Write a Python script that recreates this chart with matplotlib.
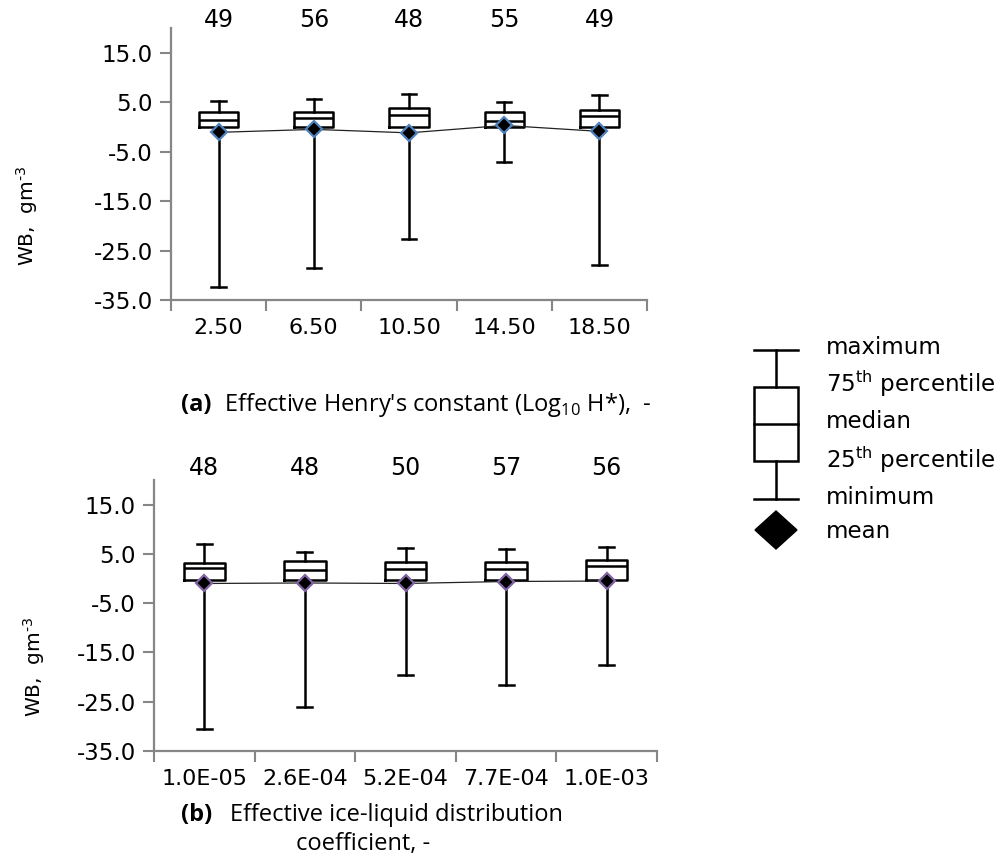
import matplotlib
matplotlib.use("Agg")
from matplotlib import pyplot as plt
from matplotlib.lines import Line2D
from matplotlib.patches import Rectangle, Polygon
import numpy as np

# panel (a): effective Henry's constant
a_labels = ["2.50", "6.50", "10.50", "14.50", "18.50"]
a_counts = [49, 56, 48, 55, 49]
a_max = [5.3, 5.7, 6.6, 5.1, 6.4]
a_q3 = [3.1, 3.1, 3.9, 3.1, 3.5]
a_med = [1.4, 1.8, 2.5, 1.25, 2.2]
a_q1 = [-0.1, -0.1, -0.1, -0.1, -0.1]
a_min = [-32.4, -28.6, -22.7, -7.0, -28.0]
a_mean = [-1.1, -0.5, -1.2, 0.3, -0.9]

# panel (b): effective ice-liquid distribution coefficient
b_labels = ["1.0E-05", "2.6E-04", "5.2E-04", "7.7E-04", "1.0E-03"]
b_counts = [48, 48, 50, 57, 56]
b_max = [7.0, 5.3, 6.1, 6.0, 6.35]
b_q3 = [3.2, 3.6, 3.3, 3.3, 3.7]
b_med = [2.1, 1.8, 2.0, 1.9, 2.5]
b_q1 = [-0.2, -0.2, -0.2, -0.2, -0.2]
b_min = [-30.6, -26.0, -19.6, -21.7, -17.6]
b_mean = [-1.0, -0.9, -1.0, -0.6, -0.5]

yticks = [-35.0, -25.0, -15.0, -5.0, 5.0, 15.0]

W, H = 1002, 860
fig = plt.figure(figsize=(W / 100, H / 100), dpi=100)

def box_panel(rect, labels, counts, vmax, q3, med, q1, vmin, mean, edge, num_off):
    l, t, r, b = rect
    ax = fig.add_axes([l / W, 1 - b / H, (r - l) / W, (b - t) / H])
    n = len(labels)
    pos = np.arange(1, n + 1)
    stats = []
    for i in range(n):
        stats.append(dict(med=med[i], q1=q1[i], q3=q3[i], whislo=vmin[i], whishi=vmax[i], fliers=[]))
    lw = 1.8
    ax.bxp(stats, positions=pos, widths=0.41, capwidths=0.15, showfliers=False,
           boxprops=dict(color="black", linewidth=lw),
           medianprops=dict(color="black", linewidth=lw),
           whiskerprops=dict(color="black", linewidth=lw),
           capprops=dict(color="black", linewidth=lw), zorder=2)
    ax.plot(pos, mean, color="#222222", linewidth=0.9, marker="D", markersize=8,
            markerfacecolor="black", markeredgecolor=edge, markeredgewidth=1.6, zorder=4)
    ax.set_xlim(0.5, n + 0.5)
    ax.set_ylim(-35, 20)
    ax.set_yticks(yticks)
    ax.set_yticklabels(["%.1f" % v for v in yticks], fontsize=16.5)
    ax.set_xticks(pos)
    ax.set_xticklabels(labels, fontsize=16)
    ax.set_xticks(np.arange(0.5, n + 1), minor=True)
    ax.tick_params(axis="x", which="major", length=0, pad=13)
    ax.tick_params(axis="x", which="minor", length=8, width=1.5, color="#868686", direction="out")
    ax.tick_params(axis="y", length=8, width=1.5, color="#868686", direction="out", pad=5)
    for s in ["top", "right"]:
        ax.spines[s].set_visible(False)
    for s in ["left", "bottom"]:
        ax.spines[s].set_color("#868686")
        ax.spines[s].set_linewidth(1.6)
    for i in range(n):
        ax.annotate(str(counts[i]), xy=(pos[i], 1.0), xycoords=("data", "axes fraction"),
                    xytext=(0, num_off), textcoords="offset pixels",
                    ha="center", va="center", fontsize=17)
    return ax

ax1 = box_panel((171, 28, 647, 300), a_labels, a_counts, a_max, a_q3, a_med, a_q1, a_min, a_mean,
                "#4F81BD", 8)
ax2 = box_panel((154, 480, 657, 751), b_labels, b_counts, b_max, b_q3, b_med, b_q1, b_min, b_mean,
                "#8064A2", 12)

# overlay axes in pixel units for labels and the key
ov = fig.add_axes([0, 0, 1, 1], zorder=-1)
ov.set_xlim(0, W)
ov.set_ylim(H, 0)
ov.axis("off")

ylab = "WB,  gm$^{\\text{-3}}$"
ov.text(27, 216, ylab, rotation=90, ha="center", va="center", fontsize=14.5)
ov.text(34, 667, ylab, rotation=90, ha="center", va="center", fontsize=14.5)

cap = "Open Sans"
cs = 17
ov.text(181, 405, "(a)", fontfamily=cap, fontweight="bold", fontsize=cs, ha="left", va="center")
ov.text(224, 405, "Effective Henry's constant (Log$_{\\mathregular{10}}$ H*),  -", fontfamily=cap,
        fontsize=cs, ha="left", va="center")
ov.text(181, 815, "(b)", fontfamily=cap, fontweight="bold", fontsize=cs, ha="left", va="center")
ov.text(230, 815, "Effective ice-liquid distribution", fontfamily=cap, fontsize=cs, ha="left", va="center")
ov.text(296, 844, "coefficient, -", fontfamily=cap, fontsize=cs, ha="left", va="center")

# key
kx, kw = 776, 44
k = dict(color="black", linewidth=1.8)
ov.add_line(Line2D([kx - kw / 2, kx + kw / 2], [350, 350], **k))
ov.add_line(Line2D([kx - kw / 2, kx + kw / 2], [499, 499], **k))
ov.add_line(Line2D([kx, kx], [350, 387], **k))
ov.add_line(Line2D([kx, kx], [461, 499], **k))
ov.add_patch(Rectangle((kx - kw / 2, 387), kw, 74, fill=False, edgecolor="black", linewidth=1.8))
ov.add_line(Line2D([kx - kw / 2, kx + kw / 2], [424, 424], **k))
ov.add_patch(Polygon([[kx, 511], [kx + 21, 530], [kx, 549], [kx - 21, 530]], closed=True,
                     facecolor="black", edgecolor="black"))
key_text = ["maximum", "75$^{\\mathregular{th}}$ percentile", "median",
            "25$^{\\mathregular{th}}$ percentile", "minimum", "mean"]
key_y = [348, 384, 422, 460, 497, 531]
for s, y in zip(key_text, key_y):
    ov.text(826, y, s, fontsize=16.5, ha="left", va="center")

fig.savefig("out.png", dpi=100)
